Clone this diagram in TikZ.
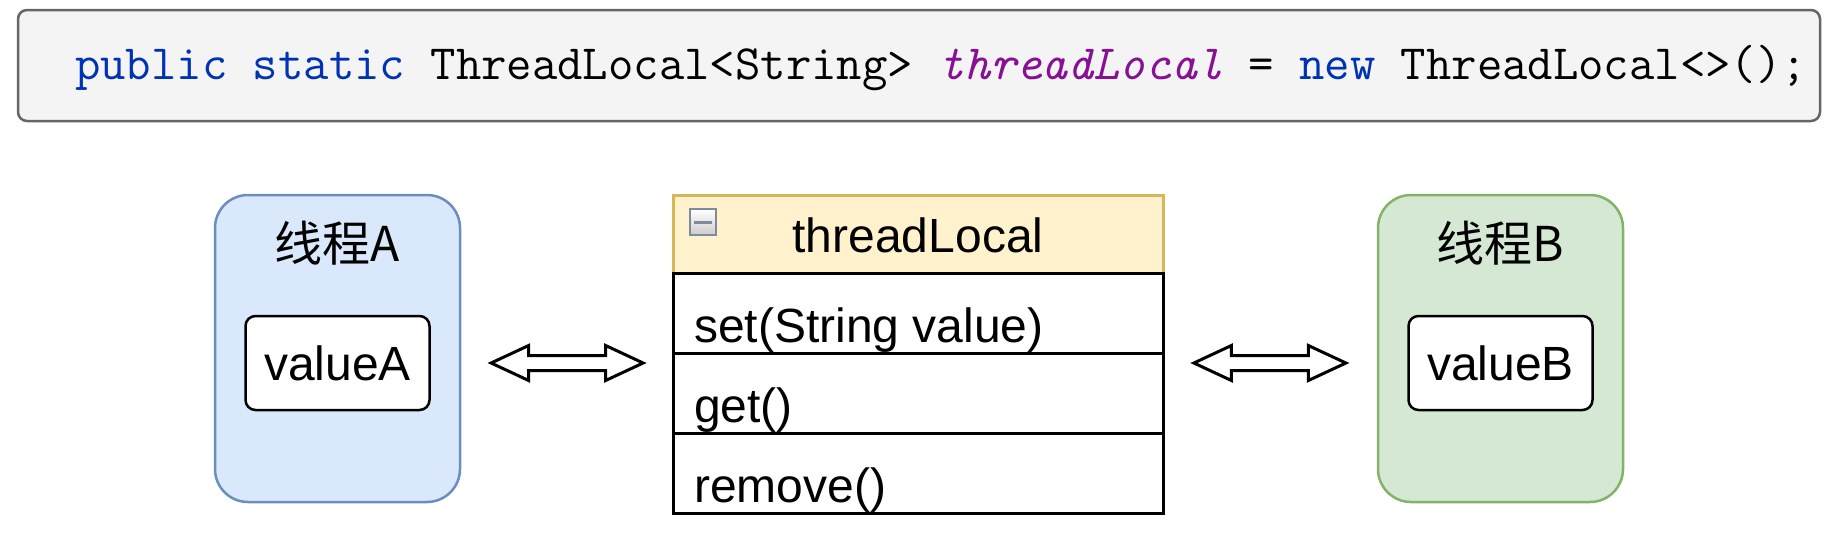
\documentclass[tikz,border=0pt]{standalone}
\usepackage{fontspec}
\setmainfont{Liberation Sans}
\newfontfamily\cjk{Noto Sans CJK SC}
\usepackage{tikz}
\usetikzlibrary{arrows.meta,positioning,shapes.arrows,calc}
\definecolor{codegray}{HTML}{F4F4F4}
\definecolor{codeline}{HTML}{666666}
\definecolor{kwblue}{HTML}{0033B3}
\definecolor{fieldpurple}{HTML}{871094}
\definecolor{softblue}{HTML}{DAE8FC}
\definecolor{blueline}{HTML}{6C8EBF}
\definecolor{softgreen}{HTML}{D5E8D4}
\definecolor{greenline}{HTML}{82B366}
\definecolor{softyellow}{HTML}{FFF2CC}
\definecolor{goldline}{HTML}{D6B656}
\definecolor{icongray}{HTML}{7F8A9E}
\newcommand{\bigfont}{\fontsize{48}{58}\selectfont}
\tikzset{
  codebox/.style={draw=codeline,fill=codegray,rounded corners=9pt,line width=2.5pt,minimum width=1802pt,minimum height=111pt},
  codetext/.style={anchor=base west,inner sep=0pt,font=\ttfamily\fontsize{49.3}{58}\selectfont},
  threadbox/.style={rounded corners=33pt,line width=2.5pt,minimum width=245pt,minimum height=307pt},
  bluethread/.style={threadbox,draw=blueline,fill=softblue},
  greenthread/.style={threadbox,draw=greenline,fill=softgreen},
  title/.style={anchor=base,inner sep=0pt,font=\cjk\bigfont},
  valbox/.style={draw=black,fill=white,rounded corners=10pt,line width=2.5pt,minimum width=184pt,minimum height=94pt,font=\bigfont},
  headbox/.style={draw=goldline,fill=softyellow,line width=3pt,minimum width=490pt,minimum height=78pt,outer sep=0pt},
  rowbox/.style={draw=black,fill=white,line width=3pt,minimum width=490pt,minimum height=80pt,outer sep=0pt},
  rowtext/.style={anchor=base west,inner sep=0pt,font=\bigfont},
  minusicon/.style={draw=icongray,line width=2.5pt,top color=white,bottom color=gray!40,minimum size=26pt,inner sep=0pt,
    path picture={\draw[line width=3pt] ([xshift=-9pt]path picture bounding box.center)--([xshift=9pt]path picture bounding box.center);}},
  swap/.style={double arrow,draw=black,fill=white,line width=3pt,minimum height=152pt,minimum width=32pt,
    double arrow head extend=10pt,double arrow tip angle=50,inner xsep=0pt,inner ysep=6pt},
}

\begin{document}
\begin{tikzpicture}[x=1pt,y=1pt,node distance=0pt]
			\useasboundingbox (0,0) rectangle (1830,-533);
			
			\node[codebox] (code) at (919,-65.5) {};
			\node[codetext] (decl) at (75,-79)
			{{\color{kwblue}public static} ThreadLocal<String> {\color{fieldpurple}\itshape threadLocal} = {\color{kwblue}new} ThreadLocal<>();};
			
			% the two threads
			\node[bluethread] (threadA) at (337.5,-348.5) {};
			\node[title] (nameA) at ([yshift=-68pt]threadA.north) {线程A};
			\node[valbox] (valueA) at ([yshift=-14.5pt]threadA.center) {valueA};
			
			\node[greenthread] (threadB) at (1500.5,-348.5) {};
			\node[title] (nameB) at ([yshift=-68pt]threadB.north) {线程B};
			\node[valbox] (valueB) at ([yshift=-14.5pt]threadB.center) {valueB};
			
			% threadLocal class box
			\node[headbox] (head) at (918,-234) {};
			\node[title,font=\bigfont] (cls) at ([yshift=21pt]head.south) {threadLocal};
			\node[minusicon] (fold) at (703,-222) {};
			\node[rowbox,below=of head] (rowset) {};
			\node[rowbox,below=of rowset] (rowget) {};
			\node[rowbox,below=of rowget] (rowremove) {};
			\node[rowtext] (set) at ([xshift=21pt,yshift=11pt]rowset.south west) {set(String value)};
			\node[rowtext] (get) at ([xshift=21pt,yshift=11pt]rowget.south west) {get()};
			\node[rowtext] (remove) at ([xshift=21pt,yshift=11pt]rowremove.south west) {remove()};
			
			\coordinate (midA) at ($(threadA.east)!0.5!(head.west)$);
			\coordinate (midB) at ($(head.east)!0.5!(threadB.west)$);
			\node[swap] (linkA) at (midA |- valueA) {};
			\node[swap] (linkB) at (midB |- valueB) {};
		\end{tikzpicture}
\end{document}
